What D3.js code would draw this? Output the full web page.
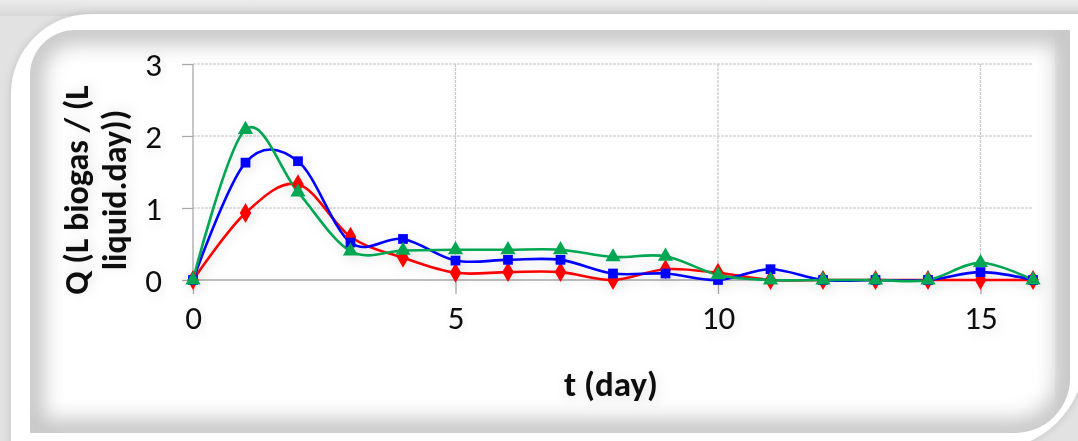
<!DOCTYPE html>
<html><head><meta charset="utf-8">
<script src="https://cdn.jsdelivr.net/npm/d3@7"></script>
<style>
html,body{margin:0;padding:0;background:#e2e2e2;}
svg{display:block;}
text{font-family:Carlito,Calibri,Lato,"Open Sans",sans-serif;}
</style></head>
<body>
<svg id="chart" width="1078" height="441"></svg>
<script>
const days = [0,1,2,3,4,5,6,7,8,9,10,11,12,13,14,15,16];
const redValues   = [0,0.93,1.33,0.60,0.31,0.10,0.11,0.11,0.00,0.15,0.10,0,0,0,0,0,0];
const blueValues  = [0,1.63,1.65,0.52,0.57,0.27,0.28,0.28,0.09,0.09,0.00,0.15,0,0,0,0.11,0];
const greenValues = [0,2.09,1.22,0.40,0.41,0.42,0.42,0.42,0.32,0.33,0.07,0,0,0,0,0.24,0];
const xTicks = [0,5,10,15];
const yTicks = [0,1,2,3];
const xTitle = "t (day)";
const yTitleLines = ["Q (L biogas / (L","liquid.day))"];

const svg = d3.select("#chart");
const W = 1078, H = 441;
const defs = svg.append("defs");

const gTop = defs.append("linearGradient").attr("id","gtop").attr("x1",0).attr("y1",0).attr("x2",0).attr("y2",1);
gTop.append("stop").attr("offset","0%").attr("stop-color","#ececec");
gTop.append("stop").attr("offset","100%").attr("stop-color","#d8d8d8");
svg.append("rect").attr("width",W).attr("height",H).attr("fill","#e2e2e2");
svg.append("rect").attr("width",W).attr("height",16).attr("fill","url(#gtop)");

// outer white shape
const ox=11, oy=14, oR=80, rx=1085, by=450, bR=95;
const outerPath = `M${ox},${oy+oR} A${oR},${oR} 0 0 1 ${ox+oR},${oy} L${rx},${oy} L${rx},${by-bR} A${bR},${bR} 0 0 1 ${rx-bR},${by} L${ox},${by} Z`;
const fOuter = defs.append("filter").attr("id","fouter").attr("x","-5%").attr("y","-5%").attr("width","110%").attr("height","110%");
fOuter.append("feGaussianBlur").attr("in","SourceAlpha").attr("stdDeviation",4).attr("result","b");
fOuter.append("feFlood").attr("flood-color","#000").attr("flood-opacity",0.15);
fOuter.append("feComposite").attr("in2","b").attr("operator","in").attr("result","s");
const m1 = fOuter.append("feMerge"); m1.append("feMergeNode").attr("in","s"); m1.append("feMergeNode").attr("in","SourceGraphic");
svg.append("path").attr("d",outerPath).attr("fill","#ffffff").attr("filter","url(#fouter)");

// inner panel
const px0=30, py0=30, px1=1070, py1=433, pR=45, qR=55;
const panelPath = `M${px0},${py0+pR} A${pR},${pR} 0 0 1 ${px0+pR},${py0} L${px1},${py0} L${px1},${py1-qR} A${qR},${qR} 0 0 1 ${px1-qR},${py1} L${px0},${py1} Z`;
defs.append("clipPath").attr("id","panelclip").append("path").attr("d",panelPath);
const fIn = defs.append("filter").attr("id","finner").attr("x","-10%").attr("y","-10%").attr("width","120%").attr("height","120%");
fIn.append("feGaussianBlur").attr("stdDeviation",10);
svg.append("path").attr("d",panelPath).attr("fill","#ffffff");
const pg = svg.append("g").attr("clip-path","url(#panelclip)");
pg.append("path").attr("d",panelPath).attr("fill","none").attr("stroke","#c6c6c6").attr("stroke-width",28).attr("filter","url(#finner)");
pg.append("rect").attr("x",px1-12).attr("y",py0).attr("width",30).attr("height",py1-py0).attr("fill","#c8c8c8").attr("filter","url(#finner)").attr("opacity",0.7);

// glow filter for content
const fGlow = defs.append("filter").attr("id","fglow").attr("x","-20%").attr("y","-40%").attr("width","140%").attr("height","180%");
fGlow.append("feGaussianBlur").attr("in","SourceAlpha").attr("stdDeviation",6).attr("result","b");
fGlow.append("feOffset").attr("in","b").attr("dx",2).attr("dy",3).attr("result","o");
fGlow.append("feFlood").attr("flood-color","#000").attr("flood-opacity",0.12);
fGlow.append("feComposite").attr("in2","o").attr("operator","in").attr("result","s");
const m2 = fGlow.append("feMerge"); m2.append("feMergeNode").attr("in","s"); m2.append("feMergeNode").attr("in","SourceGraphic");

// scales
const x = d3.scaleLinear().domain([0,16]).range([193,1033]);
const y = d3.scaleLinear().domain([0,3]).range([280,64]);

// gridlines
const grid = svg.append("g");
grid.selectAll(".hg").data(yTicks.filter(d=>d>0)).join("line")
  .attr("x1",x(0)).attr("x2",x(16)).attr("y1",d=>y(d)).attr("y2",d=>y(d))
  .attr("stroke","#c4c4c4").attr("stroke-width",1.2).attr("stroke-dasharray","3,1");
grid.selectAll(".vg").data(xTicks.filter(d=>d>0)).join("line")
  .attr("x1",d=>x(d)).attr("x2",d=>x(d)).attr("y1",y(3)).attr("y2",y(0))
  .attr("stroke","#c4c4c4").attr("stroke-width",1.2).attr("stroke-dasharray","3,1");

// axes
const xAxis = d3.axisBottom(x).tickValues(xTicks).tickSize(14).tickPadding(12).tickFormat(d3.format("d"));
const yAxis = d3.axisLeft(y).tickValues(yTicks).tickSize(11).tickPadding(20).tickFormat(d3.format("d"));
const gx = svg.append("g").attr("transform",`translate(0,${y(0)})`).call(xAxis);
const gy = svg.append("g").attr("transform",`translate(${x(0)},0)`).call(yAxis);
[gx,gy].forEach(g=>{
  g.select(".domain").attr("stroke","#a8a8a8").attr("stroke-width",1.3);
  g.selectAll(".tick line").attr("stroke","#a8a8a8").attr("stroke-width",1.3);
  g.selectAll(".tick text").attr("fill","#111").attr("font-size",33).attr("font-family","Carlito,Calibri,Lato,sans-serif").attr("filter","url(#fglow)");
});
gx.select(".domain").attr("d",`M${x(0)},0H${x(16)}`);
gy.select(".domain").attr("d",`M0,${y(3)}V${y(0)}`);
gy.selectAll(".tick text").attr("dy","0.36em");
gx.selectAll(".tick text").attr("dy","0.71em");

// titles
svg.append("text").attr("x",611).attr("y",396).attr("text-anchor","middle")
  .attr("font-size",35).attr("font-weight","bold").attr("fill","#111").attr("filter","url(#fglow)").text(xTitle);
const yt = svg.append("text").attr("transform","translate(0,190) rotate(-90)").attr("text-anchor","middle")
  .attr("font-size",34).attr("font-weight","bold").attr("fill","#111").attr("filter","url(#fglow)");
yt.selectAll("tspan").data(yTitleLines).join("tspan").attr("x",0).attr("y",(d,i)=>[88,126][i]).text(d=>d);

// series
const series = [
  {name:"red", values:redValues, color:"#ff0000", symbol:d3.symbolDiamond, size:115},
  {name:"blue", values:blueValues, color:"#0000ff", symbol:d3.symbolSquare, size:95},
  {name:"green", values:greenValues, color:"#00a651", symbol:d3.symbolTriangle, size:100}
];
const line = d3.line().x(d=>x(d[0])).y(d=>y(d[1])).curve(d3.curveCatmullRom.alpha(0));
const sg = svg.append("g").attr("filter","url(#fglow)");
series.forEach(s=>{
  const pts = days.map((d,i)=>[d,s.values[i]]);
  sg.append("path").datum(pts).attr("d",line).attr("fill","none").attr("stroke",s.color).attr("stroke-width",2.6);
});
series.forEach(s=>{
  const pts = days.map((d,i)=>[d,s.values[i]]);
  sg.append("g").selectAll("path").data(pts).join("path")
    .attr("transform",d=>`translate(${x(d[0])},${y(d[1])})`)
    .attr("d",d3.symbol().type(s.symbol).size(s.size)).attr("fill",s.color);
});
</script>
</body></html>
